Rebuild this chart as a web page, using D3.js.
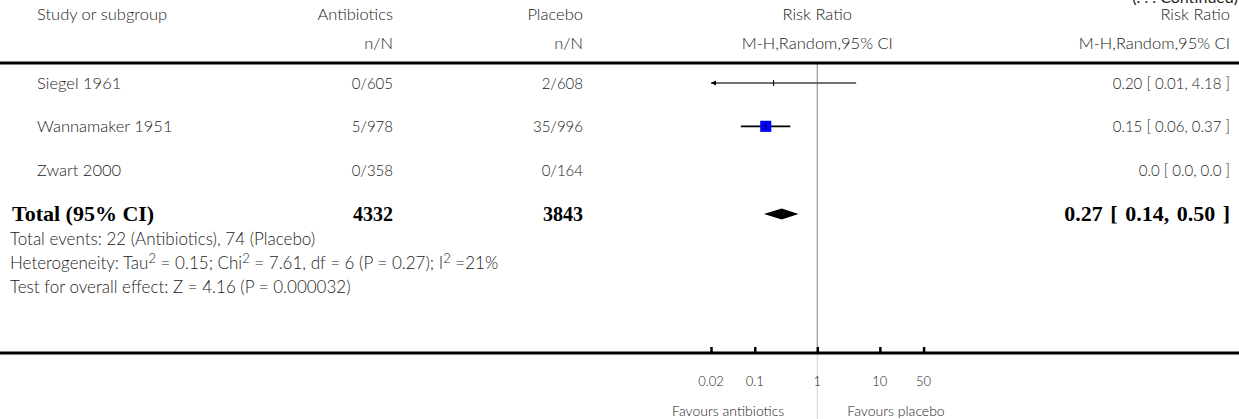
<!DOCTYPE html>
<html><head><meta charset="utf-8">
<script src="https://cdn.jsdelivr.net/npm/d3@7"></script>
<style>
html,body{margin:0;padding:0;background:#fff;}
svg{display:block;}
.t{font-family:Lato,"Open Sans",sans-serif;font-weight:300;fill:#222;font-size:15px;}
.b{font-family:"Liberation Serif","DejaVu Serif",serif;font-weight:bold;fill:#000;font-size:22px;}
</style></head>
<body>
<svg id="c" width="1239" height="419"></svg>
<script>
// ---- data ----
const studies = ["Siegel 1961", "Wannamaker 1951", "Zwart 2000"];
const antibioticsNN = ["0/605", "5/978", "0/358"];
const placeboNN = ["2/608", "35/996", "0/164"];
const rr = [0.20, 0.15, null];
const ciLow = [0.01, 0.06, null];
const ciHigh = [4.18, 0.37, null];
const weights = [0.0, 12.0, 0.0];
const rrText = ["0.20 [ 0.01, 4.18 ]", "0.15 [ 0.06, 0.37 ]", "0.0 [ 0.0, 0.0 ]"];
const totalLabel = "Total (95% CI)";
const totalN = ["4332", "3843"];
const totalRR = 0.27, totalLow = 0.14, totalHigh = 0.50;
const totalText = "0.27 [ 0.14, 0.50 ]";
const tickValues = [0.02, 0.1, 1, 10, 50];
const tickLabels = ["0.02", "0.1", "1", "10", "50"];
const favourLabels = ["Favours antibiotics", "Favours placebo"];
const footEvents = "Total events: 22 (Antibiotics), 74 (Placebo)";
const footHetero = [["Heterogeneity: Tau",0],["2",1],[" = 0.15; Chi",0],["2",1],[" = 7.61, df = 6 (P = 0.27); I",0],["2",1],[" =21%",0]];
const footTest = "Test for overall effect: Z = 4.16 (P = 0.000032)";

// ---- layout ----
const W = 1239, H = 419;
const svg = d3.select("#c");
const x = d3.scaleLog().domain([0.02, 50]).range([711, 923.6]);
const rowY = d3.scalePoint().domain(studies.concat(["Total"])).range([84, 214]);

const colStudy = 37, colLeft = 12, colA = 393, colP = 583, colRR = 1230;
const axisY = 353;

// continued label (cut at top)
svg.append("text").attr("class","t").attr("x",1238).attr("y",3).attr("text-anchor","end")
  .style("font-size","16px").style("font-weight","400").text("(. . . Continued)");

// header
const hdr = [[colStudy,"start","Study or subgroup",20],[colA,"end","Antibiotics",20],[colP,"end","Placebo",20],
  [x(1),"middle","Risk Ratio",20],[colRR,"end","Risk Ratio",20],
  [colA,"end","n/N",49],[colP,"end","n/N",49],[x(1),"middle","M-H,Random,95% CI",49],[colRR,"end","M-H,Random,95% CI",49]];
hdr.forEach(h=>svg.append("text").attr("class","t").attr("x",h[0]).attr("y",h[3]).attr("text-anchor",h[1]).style("font-size","16.5px").text(h[2]));

// vertical line of no effect
svg.append("line").attr("x1",x(1)).attr("x2",x(1)).attr("y1",63).attr("y2",axisY).attr("stroke","#999").attr("stroke-width",1.2);
svg.append("line").attr("x1",x(1)).attr("x2",x(1)).attr("y1",axisY).attr("y2",H).attr("stroke","#ddd").attr("stroke-width",1.2);

// header rule
svg.append("line").attr("x1",0).attr("x2",W).attr("y1",63).attr("y2",63).attr("stroke","#000").attr("stroke-width",3);

// study rows
studies.forEach((s,i)=>{
  const y = rowY(s);
  svg.append("text").attr("class","t").attr("x",colStudy).attr("y",y+5).style("font-size","16.5px").text(s);
  svg.append("text").attr("class","t").attr("x",colA).attr("y",y+5).attr("text-anchor","end").text(antibioticsNN[i]);
  svg.append("text").attr("class","t").attr("x",colP).attr("y",y+5).attr("text-anchor","end").text(placeboNN[i]);
  svg.append("text").attr("class","t").attr("x",colRR).attr("y",y+5).attr("text-anchor","end").text(rrText[i]);
  if (rr[i] == null) return;
  const ly = y - 1;
  const [d0,d1] = x.domain();
  const lo = Math.max(ciLow[i], d0), hi = Math.min(ciHigh[i], d1);
  const col = weights[i] > 0 ? "#000" : "#444";
  svg.append("line").attr("x1",x(lo)).attr("x2",x(hi)).attr("y1",ly).attr("y2",ly).attr("stroke",col).attr("stroke-width",weights[i]>0?1.6:1.3);
  if (ciLow[i] < d0) {
    const ax = x(d0);
    svg.append("path").attr("d",`M${ax},${ly} L${ax+5},${ly-2.5} L${ax+5},${ly+2.5} Z`).attr("fill","#000");
  }
  if (ciHigh[i] > d1) {
    const ax = x(d1);
    svg.append("path").attr("d",`M${ax},${ly} L${ax-5},${ly-2.5} L${ax-5},${ly+2.5} Z`).attr("fill","#000");
  }
  if (weights[i] > 0) {
    const s2 = Math.sqrt(weights[i]) * 3.2;
    svg.append("rect").attr("x",x(rr[i])-s2/2).attr("y",ly-s2/2).attr("width",s2).attr("height",s2).attr("fill","#0000ff");
  }
  svg.append("line").attr("x1",x(rr[i])).attr("x2",x(rr[i])).attr("y1",ly-3).attr("y2",ly+3).attr("stroke","#000").attr("stroke-width",1);
});

// total row
const ty = rowY("Total");
svg.append("text").attr("class","b").attr("x",colLeft).attr("y",ty+7).text(totalLabel);
svg.append("text").attr("class","b").attr("x",colA).attr("y",ty+7).attr("text-anchor","end").style("font-size","20px").text(totalN[0]);
svg.append("text").attr("class","b").attr("x",colP).attr("y",ty+7).attr("text-anchor","end").style("font-size","20px").text(totalN[1]);
svg.append("text").attr("class","b").attr("x",colRR).attr("y",ty+7).attr("text-anchor","end")
  .style("word-spacing","2px").text(totalText);
svg.append("path").attr("d",`M${x(totalLow)},${ty} L${x(totalRR)},${ty-5.5} L${x(totalHigh)},${ty} L${x(totalRR)},${ty+5.5} Z`).attr("fill","#000");

// footnotes
const fy = [245, 269, 293];
const fs = "17px";
svg.append("text").attr("class","t").attr("x",colLeft-2).attr("y",fy[0]).style("font-size",fs).text(footEvents);
const het = svg.append("text").attr("class","t").attr("x",colLeft-2).attr("y",fy[1]).style("font-size",fs);
footHetero.forEach((p,i)=>{
  const ts = het.append("tspan").text(p[0]);
  if (p[1]) ts.attr("dy",-6).style("font-size","13px");
  else if (i>0 && footHetero[i-1][1]) ts.attr("dy",6);
});
svg.append("text").attr("class","t").attr("x",colLeft-2).attr("y",fy[2]).style("font-size",fs).text(footTest);

// axis
svg.append("line").attr("x1",0).attr("x2",W).attr("y1",axisY).attr("y2",axisY).attr("stroke","#000").attr("stroke-width",3);
const axis = d3.axisTop(x).tickValues(tickValues).tickSize(6).tickFormat("");
const ag = svg.append("g").attr("transform",`translate(0,${axisY})`).call(axis);
ag.select(".domain").remove();
ag.selectAll(".tick line").attr("stroke","#000").attr("stroke-width",2.5);
tickValues.forEach((v,i)=>{
  svg.append("text").attr("class","t").attr("x",x(v)).attr("y",386).attr("text-anchor","middle").style("font-size","13px").text(tickLabels[i]);
});
svg.append("text").attr("class","t").attr("x",x(1)-33).attr("y",416).attr("text-anchor","end").style("font-size","14px").text(favourLabels[0]);
svg.append("text").attr("class","t").attr("x",x(1)+30).attr("y",416).attr("text-anchor","start").style("font-size","14px").text(favourLabels[1]);
</script>
</body></html>
